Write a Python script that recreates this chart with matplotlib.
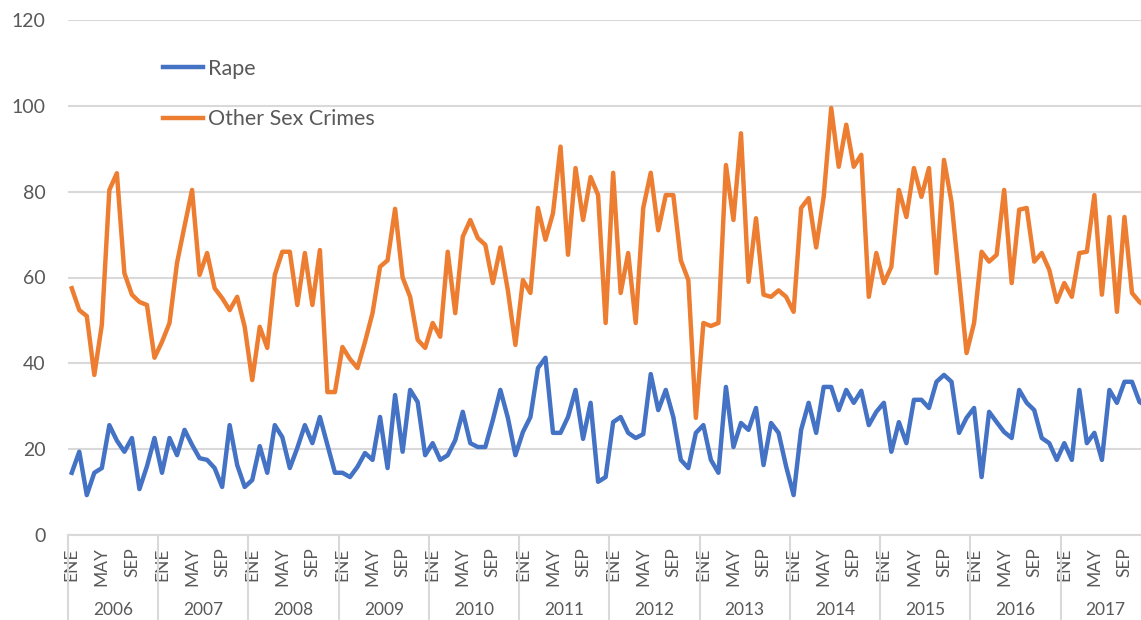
import matplotlib
matplotlib.use("Agg")
import matplotlib.pyplot as plt
import numpy as np

years = [str(y) for y in range(2006, 2018)]
month_labels = ["ENE", "", "", "", "MAY", "", "", "", "SEP", "", "", ""]

rape = [
    14.5, 19.4, 9.3, 14.5, 15.6, 25.6, 22.0, 19.4, 22.6, 10.7, 16.0, 22.6,
    14.5, 22.6, 18.6, 24.5, 21.0, 17.9, 17.5, 15.6, 11.2, 25.6, 16.3, 11.2,
    12.8, 20.7, 14.5, 25.6, 22.8, 15.6, 20.3, 25.6, 21.4, 27.5, 21.0, 14.5,
    14.5, 13.5, 15.9, 19.1, 17.5, 27.5, 15.6, 32.6, 19.4, 33.8, 31.0, 18.6,
    21.4, 17.5, 18.6, 22.1, 28.7, 21.4, 20.5, 20.5, 26.8, 33.8, 27.3, 18.6,
    24.0, 27.5, 38.9, 41.3, 23.8, 23.8, 27.5, 33.8, 22.4, 30.8, 12.4, 13.5,
    26.3, 27.5, 23.8, 22.6, 23.5, 37.5, 29.1, 33.8, 27.5, 17.5, 15.6, 23.8,
    25.6, 17.5, 14.5, 34.5, 20.5, 26.1, 24.5, 29.6, 16.3, 26.1, 23.8, 16.0,
    9.3, 24.5, 30.8, 23.8, 34.5, 34.5, 29.1, 33.8, 30.8, 33.6, 25.6, 28.7,
    30.8, 19.4, 26.3, 21.4, 31.5, 31.5, 29.6, 35.7, 37.3, 35.7, 23.8, 27.3,
    29.6, 13.5, 28.7, 26.3, 24.0, 22.6, 33.8, 30.8, 29.1, 22.6, 21.4, 17.5,
    21.4, 17.5, 33.8, 21.4, 23.8, 17.5, 33.8, 30.8, 35.7, 35.7, 31.0, 30.0,
]

other_sex_crimes = [
    57.5, 52.4, 51.0, 37.3, 49.0, 80.4, 84.3, 61.0, 56.0, 54.3, 53.6, 41.3,
    45.0, 49.4, 63.4, 72.0, 80.4, 60.6, 65.7, 57.5, 55.2, 52.4, 55.5, 48.5,
    36.1, 48.5, 43.6, 60.6, 66.0, 66.0, 53.6, 65.7, 53.6, 66.4, 33.3, 33.3,
    43.8, 41.0, 38.9, 45.0, 51.7, 62.5, 64.0, 76.0, 60.0, 55.5, 45.5, 43.6,
    49.4, 46.2, 66.0, 51.7, 69.5, 73.4, 69.2, 67.6, 58.7, 67.0, 57.0, 44.3,
    59.4, 56.4, 76.2, 68.8, 75.0, 90.5, 65.3, 85.5, 73.4, 83.4, 79.2, 49.4,
    84.4, 56.4, 65.7, 49.4, 76.2, 84.4, 71.0, 79.2, 79.2, 64.0, 59.4, 27.3,
    49.4, 48.7, 49.4, 86.2, 73.4, 93.6, 59.0, 73.8, 56.0, 55.5, 57.0, 55.5,
    52.0, 76.2, 78.5, 67.0, 78.8, 99.5, 85.8, 95.6, 85.8, 88.6, 55.5, 65.7,
    58.7, 62.5, 80.4, 74.1, 85.5, 78.8, 85.5, 61.0, 87.4, 77.6, 60.0, 42.4,
    49.4, 66.0, 63.7, 65.3, 80.4, 58.7, 75.8, 76.2, 63.7, 65.7, 61.8, 54.3,
    58.7, 55.5, 65.7, 66.0, 79.2, 56.0, 74.1, 52.0, 74.1, 56.4, 54.3, 53.0,
]

plt.rcParams["font.family"] = ["Lato", "DejaVu Sans"]
text_color = "#595959"
grid_color = "#d9d9d9"

W, H = 1141, 620
fig = plt.figure(figsize=(W / 100, H / 100), dpi=100)
ax = fig.add_axes([68 / W, (H - 535) / H, 1 - 68 / W, 515 / H])

x = np.arange(len(rape))
ax.plot(x, rape, color="#4472C4", lw=3.2, label="Rape", solid_joinstyle="round")
ax.plot(x, other_sex_crimes, color="#ED7D31", lw=3.2, label="Other Sex Crimes",
        solid_joinstyle="round")

ax.set_ylim(0, 120)
ax.set_yticks(range(0, 121, 20))
ax.set_xlim(-0.5, 142.2)
ax.yaxis.grid(True, color=grid_color, lw=1.5)
ax.set_axisbelow(True)
for s in ["top", "right", "left"]:
    ax.spines[s].set_visible(False)
ax.spines["bottom"].set_color(grid_color)
ax.spines["bottom"].set_linewidth(1.5)
ax.tick_params(axis="y", length=0, pad=16, labelsize=14, labelcolor=text_color)

# month ticks (ENE / MAY / SEP of each year)
ticks, labels = [], []
for yi in range(len(years)):
    for mi, m in enumerate(month_labels):
        if m:
            ticks.append(yi * 12 + mi)
            labels.append(m)
ax.set_xticks(ticks)
ax.set_xticklabels(labels, rotation=90, fontsize=12.5, color=text_color)
ax.tick_params(axis="x", length=0, pad=9)

# year groups and separators
trans = ax.get_xaxis_transform()
for yi, yr in enumerate(years):
    ax.text(yi * 12 + 5.5, -75 / 515, yr, transform=trans, ha="center",
            va="center", fontsize=12.5, color=text_color)
    ax.plot([yi * 12 - 0.5] * 2, [0, -90 / 515], transform=trans,
            color=grid_color, lw=1.5, clip_on=False)

fig.legend(loc="upper left", bbox_to_anchor=(163 / W, 1 - 59 / H),
           bbox_transform=fig.transFigure, frameon=False, fontsize=15.5,
           labelspacing=1.4, handlelength=1.85, handletextpad=0.25,
           borderpad=0, borderaxespad=0, labelcolor=text_color)

fig.savefig("out.png", dpi=100, facecolor="white")
